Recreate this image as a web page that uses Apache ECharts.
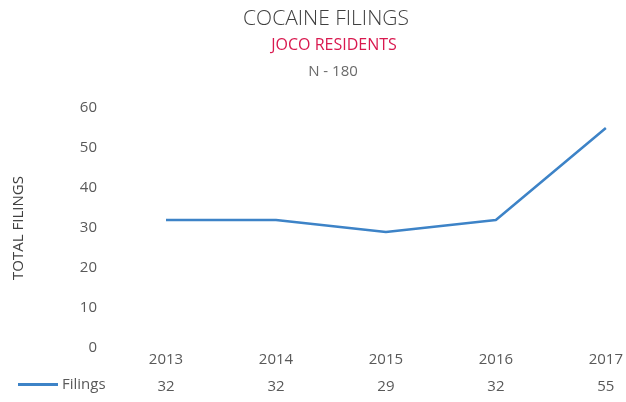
<!DOCTYPE html>
<html>
<head>
<meta charset="utf-8">
<script src="https://cdn.jsdelivr.net/npm/echarts@6/dist/echarts.min.js"></script>
<style>
  html, body { margin: 0; padding: 0; background: #fff; }
  #chart { width: 626px; height: 402px; }
</style>
</head>
<body>
<div id="chart"></div>
<script>
// Cocaine filings per year, JOCO residents
const years = ['2013', '2014', '2015', '2016', '2017'];
const filings = [32, 32, 29, 32, 55];
const seriesName = 'Filings';
const yTicks = { min: 0, max: 60, interval: 10 };

const font = '"Open Sans", "Noto Sans", sans-serif';
const chart = echarts.init(document.getElementById('chart'), null, { renderer: 'canvas' });

chart.setOption({
  backgroundColor: '#ffffff',
  animation: false,
  title: [
    { text: 'COCAINE FILINGS', left: 326, top: 9, padding: 0, textAlign: 'center',
      textStyle: { fontFamily: font, fontSize: 21, fontWeight: 300, color: '#3f3f3f' } },
    { text: 'JOCO RESIDENTS', left: 334, top: 37, padding: 0, textAlign: 'center',
      textStyle: { fontFamily: font, fontSize: 16, fontWeight: 'normal', color: '#d9194f' } },
    { text: 'N - 180', left: 333, top: 64, padding: 0, textAlign: 'center',
      textStyle: { fontFamily: font, fontSize: 15, fontWeight: 'normal', color: '#6a6a6a' } }
  ],
  legend: {
    data: [seriesName],
    left: 13, top: 372,
    icon: 'rect', itemWidth: 40, itemHeight: 3,
    textStyle: { fontFamily: font, fontSize: 15, color: '#595959', padding: [0, 0, 0, -1] }
  },
  grid: { left: 166, right: 17, top: 108, bottom: 54, containLabel: false },
  xAxis: [
    {
      type: 'category', data: years, boundaryGap: false,
      axisLine: { show: false }, axisTick: { show: false }, splitLine: { show: false },
      axisLabel: { margin: 4, fontFamily: font, fontSize: 15, color: '#595959' }
    },
    {
      type: 'category', data: filings.map(String), boundaryGap: false,
      position: 'bottom', offset: 27,
      axisLine: { show: false }, axisTick: { show: false }, splitLine: { show: false },
      axisLabel: { margin: 4, fontFamily: font, fontSize: 15, color: '#595959' }
    }
  ],
  yAxis: {
    type: 'value', min: yTicks.min, max: yTicks.max, interval: yTicks.interval,
    name: 'TOTAL FILINGS', nameLocation: 'middle', nameGap: 140, nameRotate: 90,
    nameTextStyle: { fontFamily: font, fontSize: 15, color: '#404040' },
    axisLine: { show: false }, axisTick: { show: false }, splitLine: { show: false },
    axisLabel: { margin: 69, fontFamily: font, fontSize: 15, color: '#595959' }
  },
  series: [{
    name: seriesName, type: 'line', data: filings,
    showSymbol: false, symbol: 'none',
    lineStyle: { color: '#3d83c7', width: 2.5 },
    itemStyle: { color: '#3d83c7' }
  }]
});
</script>
</body>
</html>
